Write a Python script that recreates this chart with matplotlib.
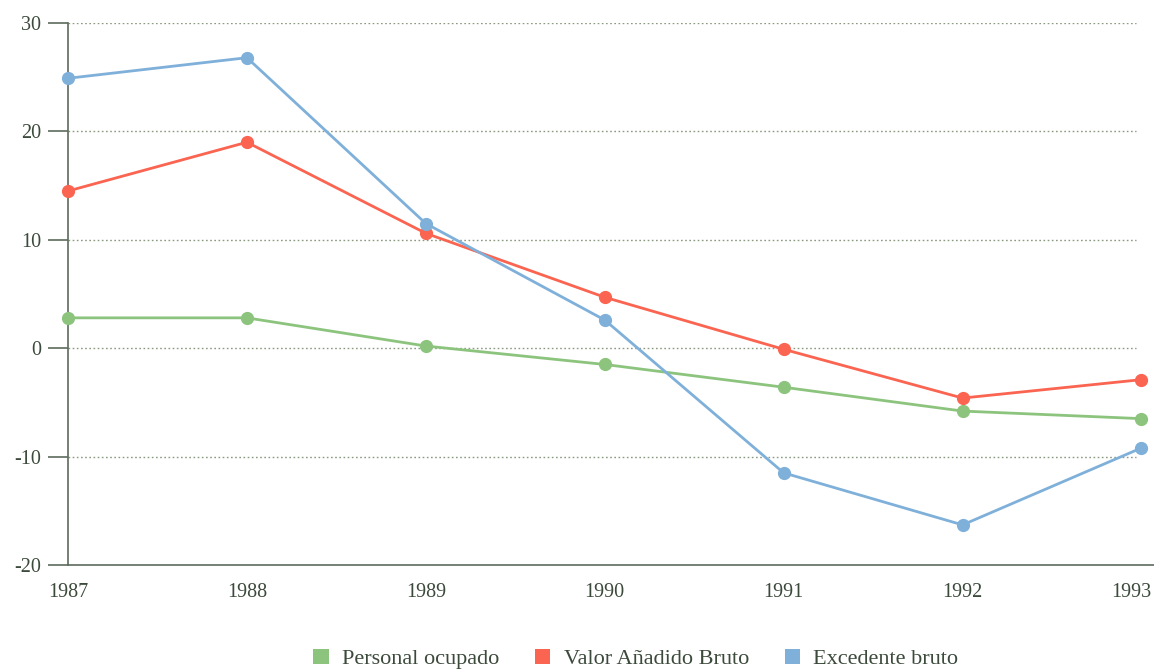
import matplotlib
matplotlib.use("Agg")
import matplotlib.pyplot as plt
from matplotlib.patches import Patch
from matplotlib.transforms import ScaledTranslation

# data
years = [1987, 1988, 1989, 1990, 1991, 1992, 1993]
personal_ocupado = [2.8, 2.8, 0.2, -1.5, -3.6, -5.8, -6.5]
valor_anadido = [14.5, 19.0, 10.6, 4.7, -0.1, -4.6, -2.9]
excedente_bruto = [24.9, 26.8, 11.5, 2.6, -11.5, -16.3, -9.2]

series_names = ["Personal ocupado", "Valor Añadido Bruto", "Excedente bruto"]
series_colors = ["#8cc47e", "#fa6450", "#7fb0da"]

y_ticks = [30, 20, 10, 0, -10, -20]
y_labels = ["30", "20", "10", "0", "-10", "-20"]

plt.rcParams['font.family'] = ['Liberation Serif', 'DejaVu Serif']
plt.rcParams['axes.unicode_minus'] = False

axis_color = "#5d6b5d"
text_color = "#3c4a3c"

fig = plt.figure(figsize=(11.54, 6.69), dpi=100)
ax = fig.add_axes([68 / 1154, 1 - 565 / 669, (1154 - 68) / 1154, (565 - 23) / 669])

# dotted gridlines
for t in y_ticks[:-1]:
    ax.hlines(t, years[0], 1992.97, colors="#8a9a80", linestyles=(0, (1.2, 1.8)),
              linewidth=1.0, zorder=1)

for vals, name, col in zip([personal_ocupado, valor_anadido, excedente_bruto],
                           series_names, series_colors):
    ax.plot(years, vals, color=col, linewidth=2.0, marker='o', markersize=8.5,
            label=name, zorder=3, clip_on=False)

ax.set_xlim(1987, 1993.07)
ax.set_ylim(-20, 30)

ax.set_yticks(y_ticks)
ax.set_yticklabels(y_labels)
ax.set_xticks(years)
ax.set_xticklabels([str(y) for y in years])

ax.tick_params(axis='y', length=14.5, width=1.2, color=axis_color, pad=5,
               labelsize=14.5, labelcolor=text_color)
ax.tick_params(axis='x', length=0, pad=13, labelsize=14.5, labelcolor=text_color)

# last year label sits flush against the right edge
last = ax.get_xticklabels()[-1]
last.set_horizontalalignment('right')
last.set_transform(last.get_transform() + ScaledTranslation(10 / 100, 0, fig.dpi_scale_trans))

for s in ['top', 'right']:
    ax.spines[s].set_visible(False)
for s in ['left', 'bottom']:
    ax.spines[s].set_color(axis_color)
    ax.spines[s].set_linewidth(1.2)

handles = [Patch(facecolor=c, edgecolor='none') for c in series_colors]
fig.legend(handles, series_names, loc='lower center', bbox_to_anchor=(0.551, -0.03),
           ncol=3, frameon=False, fontsize=16, handlelength=0.7, handleheight=0.7,
           handletextpad=0.6, columnspacing=1.6, labelcolor=text_color)

fig.savefig("out.png", dpi=100)
